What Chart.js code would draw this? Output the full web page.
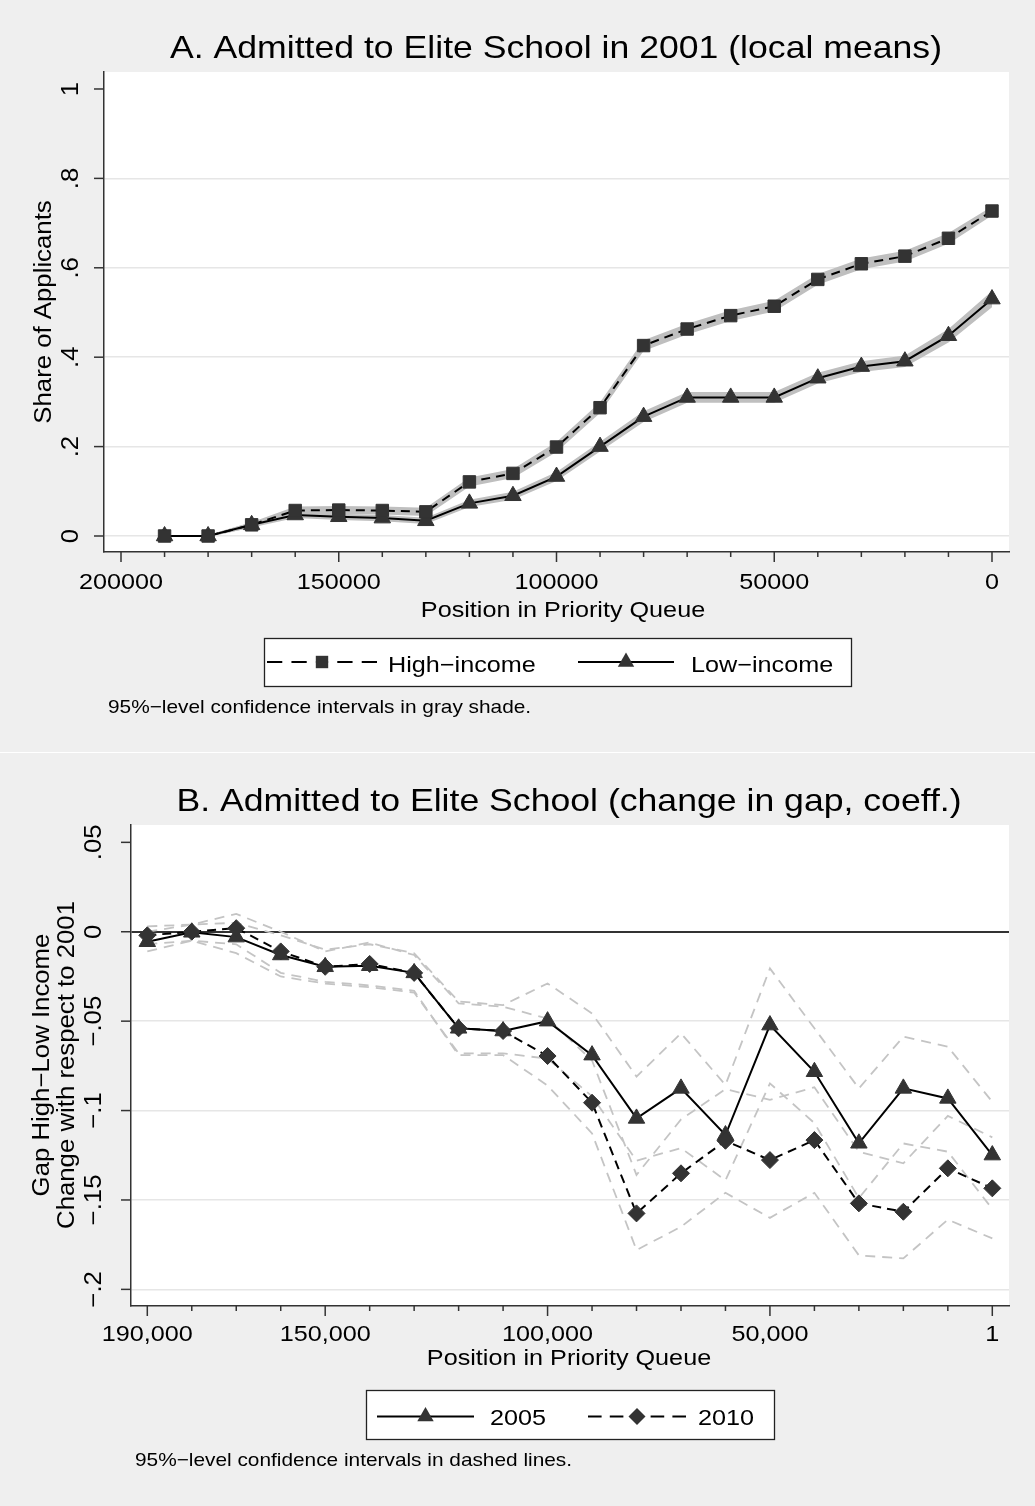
<!DOCTYPE html>
<html><head><meta charset="utf-8">
<script src="https://cdn.jsdelivr.net/npm/chart.js@4.4.1/dist/chart.umd.min.js"></script>
<style>
html,body{margin:0;padding:0;background:#fff;}
#wrap{position:relative;width:1035px;height:1506px;overflow:hidden;background:#fff;}
canvas{position:absolute;left:0;}
#ca{top:0;} #cb{top:753px;}
</style></head><body>
<div id="wrap"><canvas id="ca" width="1035" height="752"></canvas><canvas id="cb" width="1035" height="753"></canvas></div>
<script>
// ---------------- Panel A data ----------------
const queueA = [190000,180000,170000,160000,150000,140000,130000,120000,110000,100000,90000,80000,70000,60000,50000,40000,30000,20000,10000,0];
const highIncome   = [0,0,0.025,0.057,0.058,0.057,0.054,0.121,0.140,0.199,0.287,0.426,0.463,0.493,0.514,0.574,0.609,0.626,0.666,0.727];
const highIncomeLo = [-0.002,-0.002,0.019,0.048,0.049,0.048,0.045,0.111,0.130,0.188,0.275,0.414,0.451,0.481,0.502,0.562,0.597,0.614,0.654,0.717];
const highIncomeHi = [0.002,0.002,0.031,0.066,0.067,0.066,0.063,0.131,0.150,0.210,0.299,0.438,0.475,0.505,0.526,0.586,0.621,0.638,0.678,0.737];
const lowIncome    = [0,0,0.025,0.047,0.043,0.040,0.034,0.073,0.090,0.133,0.200,0.267,0.310,0.310,0.310,0.353,0.379,0.391,0.448,0.530];
const lowIncomeLo  = [-0.002,-0.002,0.019,0.040,0.036,0.033,0.027,0.065,0.081,0.123,0.189,0.255,0.298,0.298,0.298,0.341,0.367,0.378,0.433,0.512];
const lowIncomeHi  = [0.002,0.002,0.031,0.054,0.050,0.047,0.041,0.081,0.099,0.143,0.211,0.279,0.322,0.322,0.322,0.365,0.391,0.404,0.463,0.548];
const xMajorTicksA = [200000,150000,100000,50000,0];
const xMajorLabelsA = ['200000','150000','100000','50000','0'];
const xMinorTicksA = [190000,180000,170000,160000,140000,130000,120000,110000,90000,80000,70000,60000,40000,30000,20000,10000];
const yTicksA = [0,0.2,0.4,0.6,0.8,1];
const yTickLabelsA = ['0','.2','.4','.6','.8','1'];

// ---------------- Panel B data ----------------
const queueB = [190000,180000,170000,160000,150000,140000,130000,120000,110000,100000,90000,80000,70000,60000,50000,40000,30000,20000,10000,1];
const gap2005   = [-0.0056,-0.0003,-0.003,-0.013,-0.0196,-0.019,-0.023,-0.054,-0.0555,-0.050,-0.069,-0.1044,-0.0876,-0.1137,-0.0522,-0.0783,-0.1183,-0.0876,-0.0932,-0.1249];
const gap2005Lo = [-0.011,-0.005,-0.012,-0.025,-0.029,-0.031,-0.034,-0.068,-0.068,-0.071,-0.092,-0.128,-0.121,-0.139,-0.0848,-0.107,-0.149,-0.1184,-0.123,-0.155];
const gap2005Hi = [0.000,0.004,0.005,-0.002,-0.010,-0.007,-0.012,-0.039,-0.041,-0.0289,-0.0457,-0.081,-0.0568,-0.0857,-0.0205,-0.054,-0.0876,-0.0587,-0.0643,-0.0951];
const gap2010   = [-0.002,0,0.002,-0.011,-0.0196,-0.018,-0.023,-0.054,-0.0555,-0.0695,-0.0956,-0.1575,-0.1351,-0.1169,-0.1277,-0.1165,-0.1519,-0.1566,-0.1323,-0.1435];
const gap2010Lo = [-0.007,-0.005,-0.007,-0.023,-0.028,-0.030,-0.033,-0.069,-0.069,-0.086,-0.1128,-0.178,-0.165,-0.146,-0.160,-0.146,-0.181,-0.1827,-0.161,-0.1715];
const gap2010Hi = [0.003,0.004,0.010,0.000,-0.011,-0.006,-0.013,-0.040,-0.042,-0.0485,-0.072,-0.136,-0.105,-0.088,-0.094,-0.087,-0.123,-0.1295,-0.103,-0.115];
const xMajorTicksB = [190000,150000,100000,50000,1];
const xMajorLabelsB = ['190,000','150,000','100,000','50,000','1'];
const xMinorTicksB = [180000,170000,160000,140000,130000,120000,110000,90000,80000,70000,60000,40000,30000,20000,10000];
const yTicksB = [0.05,0,-0.05,-0.1,-0.15,-0.2];
const yTickLabelsB = ['.05','0','\u2212.05','\u2212.1','\u2212.15','\u2212.2'];

// ---------------- styling helpers ----------------
const BG = '#efefef';
const AXIS = '#333333';
const GRID = '#e6e6e6';
const MARK = '#333333';
const BAND = '#bfbfbf';
const CIL = '#c4c4c4';
const SX = 1.12;
const FS = {title:31.8, tick:22.5, ytick:23, axis:22.5, ylab:23, legend:22.5, note:18.6};
const FONT = '"Liberation Sans", Arial, Helvetica, sans-serif';

function pts(xs, ys){ return xs.map((x,i)=>({x:x, y:ys[i]})); }

function txt(ctx, s, x, y, size, opts){
  opts = opts || {};
  ctx.save();
  ctx.translate(x, y);
  if (opts.rot) ctx.rotate(opts.rot);
  ctx.scale(SX, 1);
  ctx.font = size + 'px ' + FONT;
  ctx.fillStyle = opts.color || '#000';
  ctx.textAlign = opts.align || 'left';
  ctx.textBaseline = 'alphabetic';
  ctx.fillText(s, 0, 0);
  ctx.restore();
}
function seg(ctx, x0, y0, x1, y1){ ctx.beginPath(); ctx.moveTo(x0,y0); ctx.lineTo(x1,y1); ctx.stroke(); }
function marker(ctx, kind, x, y){
  ctx.save();
  ctx.fillStyle = MARK;
  ctx.beginPath();
  if (kind === 'rect'){ ctx.rect(x-6.2, y-6.2, 12.4, 12.4); }
  else if (kind === 'triangle'){ ctx.moveTo(x, y-9.5); ctx.lineTo(x+8.2, y+4.75); ctx.lineTo(x-8.2, y+4.75); ctx.closePath(); }
  else { ctx.moveTo(x, y-8.5); ctx.lineTo(x+8.5, y); ctx.lineTo(x, y+8.5); ctx.lineTo(x-8.5, y); ctx.closePath(); }
  ctx.fill();
  ctx.restore();
}
function legendItem(ctx, x0, x1, y, dashed, kind){
  const xm = (x0+x1)/2;
  ctx.save();
  ctx.strokeStyle = '#000'; ctx.lineWidth = 2;
  if (dashed){
    const d = (xm - x0)/3.6;
    seg(ctx, x0, y, x0+d, y); seg(ctx, x0+1.6*d, y, x0+2.6*d, y);
    seg(ctx, x1-d, y, x1, y); seg(ctx, x1-2.6*d, y, x1-1.6*d, y);
    seg(ctx, x0+3.2*d, y, x1-3.2*d, y);
  } else {
    seg(ctx, x0, y, x1, y);
  }
  ctx.restore();
  marker(ctx, kind, xm, y);
}

const bgPlugin = {
  id: 'bgPlugin',
  beforeDraw(chart){
    const {ctx, chartArea:a} = chart;
    ctx.save();
    ctx.fillStyle = BG; ctx.fillRect(0,0,chart.width,chart.height);
    ctx.fillStyle = '#fff'; ctx.fillRect(a.left, a.top, a.right-a.left, a.bottom-a.top);
    ctx.restore();
  }
};

function axesDecor(chart, spec){
  const {ctx, chartArea:a} = chart;
  const xs = chart.scales.x, ys = chart.scales.y;
  ctx.save();
  ctx.strokeStyle = AXIS; ctx.lineWidth = 1.5;
  spec.yTicks.forEach((v,i)=>{
    const py = ys.getPixelForValue(v);
    seg(ctx, a.left-10, py, a.left, py);
    txt(ctx, spec.yLabels[i], spec.yLabelX, py, FS.ytick, {rot:-Math.PI/2, align:'center'});
  });
  spec.xMajor.forEach((v,i)=>{
    const px = xs.getPixelForValue(v);
    seg(ctx, px, a.bottom, px, a.bottom+10);
    txt(ctx, spec.xLabels[i], px, spec.xLabelY, FS.tick, {align:'center'});
  });
  spec.xMinor.forEach(v=>{
    const px = xs.getPixelForValue(v);
    seg(ctx, px, a.bottom, px, a.bottom+5);
  });
  ctx.restore();
}

// ---------------- Chart A ----------------
const plugA = {
  id: 'decorA',
  afterDraw(chart){
    const ctx = chart.ctx;
    axesDecor(chart, {yTicks:yTicksA, yLabels:yTickLabelsA, yLabelX:78, xMajor:xMajorTicksA, xLabels:xMajorLabelsA, xMinor:xMinorTicksA, xLabelY:589});
    txt(ctx, 'A. Admitted to Elite School in 2001 (local means)', 556, 58, FS.title, {align:'center'});
    txt(ctx, 'Share of Applicants', 51, 312, FS.ylab, {rot:-Math.PI/2, align:'center'});
    txt(ctx, 'Position in Priority Queue', 563, 617, FS.axis, {align:'center'});
    ctx.save();
    ctx.fillStyle = '#fff'; ctx.fillRect(264, 638, 587, 48);
    ctx.strokeStyle = '#222'; ctx.lineWidth = 1.3; ctx.strokeRect(264.5, 638.5, 587, 48);
    ctx.restore();
    legendItem(ctx, 267, 377, 662, true, 'rect');
    txt(ctx, 'High\u2212income', 388, 672, FS.legend);
    legendItem(ctx, 578, 674, 662, false, 'triangle');
    txt(ctx, 'Low\u2212income', 691, 672, FS.legend);
    txt(ctx, '95%\u2212level confidence intervals in gray shade.', 108, 713, FS.note);
  }
};

new Chart(document.getElementById('ca'), {
  type: 'line',
  data: {
    datasets: [
      {label:'hiLo', data:pts(queueA, highIncomeLo), borderWidth:0, pointRadius:0, fill:false, order:2},
      {label:'hiHi', data:pts(queueA, highIncomeHi), borderWidth:0, pointRadius:0, fill:'-1', backgroundColor:BAND, order:2},
      {label:'loLo', data:pts(queueA, lowIncomeLo), borderWidth:0, pointRadius:0, fill:false, order:2},
      {label:'loHi', data:pts(queueA, lowIncomeHi), borderWidth:0, pointRadius:0, fill:'-1', backgroundColor:BAND, order:2},
      {label:'High-income', data:pts(queueA, highIncome), borderColor:'#000', borderWidth:2, borderDash:[9,6],
        pointStyle:'rect', pointRadius:8.8, pointBackgroundColor:MARK, pointBorderColor:MARK, pointBorderWidth:1, fill:false, order:0},
      {label:'Low-income', data:pts(queueA, lowIncome), borderColor:'#000', borderWidth:2,
        pointStyle:'triangle', pointRadius:9.5, pointBackgroundColor:MARK, pointBorderColor:MARK, pointBorderWidth:1, fill:false, order:1}
    ]
  },
  options: {
    responsive:false, animation:false, devicePixelRatio:1,
    layout:{padding:{left:0, right:26, top:72, bottom:0}},
    elements:{line:{tension:0}},
    plugins:{legend:{display:false}, tooltip:{enabled:false}, title:{display:false}},
    scales:{
      x:{type:'linear', reverse:true, min:-3904, max:203904,
         afterBuildTicks:(s)=>{ s.ticks = xMajorTicksA.map(v=>({value:v})); },
         afterFit:(s)=>{ s.height = 200; },
         ticks:{display:false}, grid:{drawOnChartArea:false, drawTicks:false},
         border:{display:true, color:AXIS, width:1.5}},
      y:{type:'linear', min:-0.0358, max:1.038,
         afterBuildTicks:(s)=>{ s.ticks = yTicksA.map(v=>({value:v})); },
         afterFit:(s)=>{ s.width = 104; },
         ticks:{display:false},
         grid:{drawTicks:false, lineWidth:1.5, color:(c)=> (c.tick && c.tick.value === 1) ? 'rgba(0,0,0,0)' : GRID},
         border:{display:true, color:AXIS, width:1.5}}
    }
  },
  plugins:[bgPlugin, plugA]
});

// ---------------- Chart B ----------------
const plugB = {
  id: 'decorB',
  afterDraw(chart){
    const ctx = chart.ctx;
    axesDecor(chart, {yTicks:yTicksB, yLabels:yTickLabelsB, yLabelX:101, xMajor:xMajorTicksB, xLabels:xMajorLabelsB, xMinor:xMinorTicksB, xLabelY:588});
    txt(ctx, 'B. Admitted to Elite School (change in gap, coeff.)', 569, 58, FS.title, {align:'center'});
    txt(ctx, 'Gap High\u2212Low Income', 49, 312, FS.ylab, {rot:-Math.PI/2, align:'center'});
    txt(ctx, 'Change with respect to 2001', 74, 312, FS.ylab, {rot:-Math.PI/2, align:'center'});
    txt(ctx, 'Position in Priority Queue', 569, 612, FS.axis, {align:'center'});
    ctx.save();
    ctx.fillStyle = '#fff'; ctx.fillRect(366, 637, 408, 49);
    ctx.strokeStyle = '#222'; ctx.lineWidth = 1.3; ctx.strokeRect(366.5, 637.5, 408, 49);
    ctx.restore();
    legendItem(ctx, 377, 474, 663.5, false, 'triangle');
    txt(ctx, '2005', 490, 672, FS.legend);
    legendItem(ctx, 588, 686, 663.5, true, 'diamond');
    txt(ctx, '2010', 698, 672, FS.legend);
    txt(ctx, '95%\u2212level confidence intervals in dashed lines.', 135, 713, FS.note);
  }
};

const ciStyle = {borderColor:CIL, borderWidth:1.8, borderDash:[10,7], pointRadius:0, fill:false, order:3};
new Chart(document.getElementById('cb'), {
  type: 'line',
  data: {
    datasets: [
      Object.assign({label:'2005 lo', data:pts(queueB, gap2005Lo)}, ciStyle),
      Object.assign({label:'2005 hi', data:pts(queueB, gap2005Hi)}, ciStyle),
      Object.assign({label:'2010 lo', data:pts(queueB, gap2010Lo)}, ciStyle),
      Object.assign({label:'2010 hi', data:pts(queueB, gap2010Hi)}, ciStyle),
      {label:'2005', data:pts(queueB, gap2005), borderColor:'#000', borderWidth:2,
        pointStyle:'triangle', pointRadius:9.5, pointBackgroundColor:MARK, pointBorderColor:MARK, pointBorderWidth:1, fill:false, order:1},
      {label:'2010', data:pts(queueB, gap2010), borderColor:'#000', borderWidth:2, borderDash:[9,6],
        pointStyle:'rectRot', pointRadius:8.5, pointBackgroundColor:MARK, pointBorderColor:MARK, pointBorderWidth:1, fill:false, order:0}
    ]
  },
  options: {
    responsive:false, animation:false, devicePixelRatio:1,
    layout:{padding:{left:0, right:26, top:72, bottom:0}},
    elements:{line:{tension:0}},
    plugins:{legend:{display:false}, tooltip:{enabled:false}, title:{display:false}},
    scales:{
      x:{type:'linear', reverse:true, min:-3754, max:193665,
         afterBuildTicks:(s)=>{ s.ticks = xMajorTicksB.map(v=>({value:v})); },
         afterFit:(s)=>{ s.height = 200; },
         ticks:{display:false}, grid:{drawOnChartArea:false, drawTicks:false},
         border:{display:true, color:AXIS, width:1.5}},
      y:{type:'linear', min:-0.2093, max:0.0597,
         afterBuildTicks:(s)=>{ s.ticks = yTicksB.map(v=>({value:v})); },
         afterFit:(s)=>{ s.width = 131; },
         ticks:{display:false},
         grid:{drawTicks:false,
               lineWidth:(c)=> (c.tick && c.tick.value === 0) ? 2 : 1.5,
               color:(c)=> !c.tick ? GRID : (c.tick.value === 0.05 ? 'rgba(0,0,0,0)' : (c.tick.value === 0 ? AXIS : GRID))},
         border:{display:true, color:AXIS, width:1.5}}
    }
  },
  plugins:[bgPlugin, plugB]
});
</script>
</body></html>
